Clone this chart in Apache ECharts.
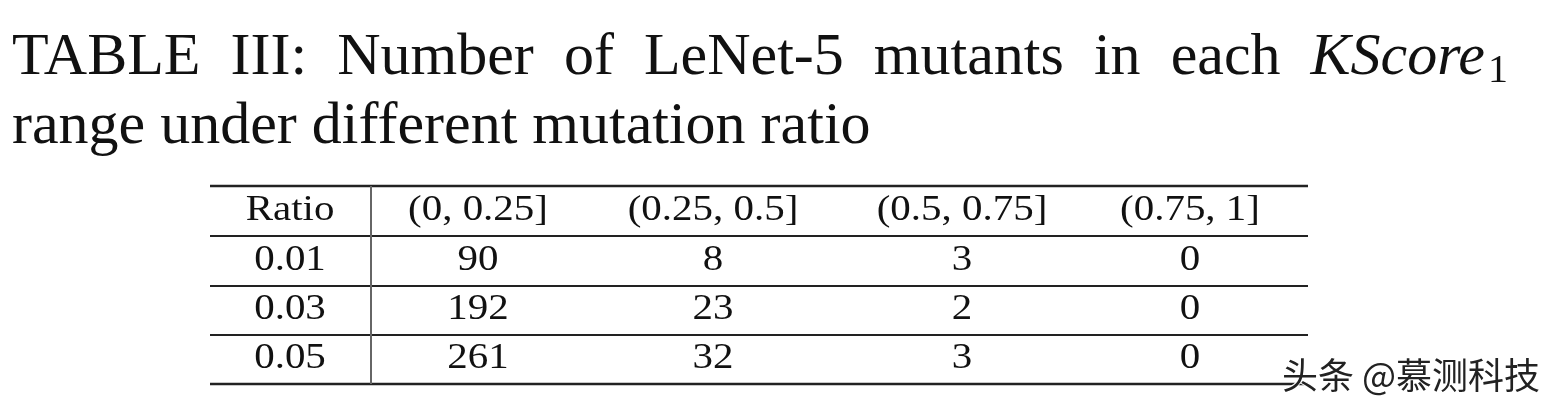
<!DOCTYPE html>
<html><head><meta charset="utf-8">
<script src="https://cdn.jsdelivr.net/npm/echarts@6/dist/echarts.min.js"></script>
<style>html,body{margin:0;background:#fff}#c{width:1552px;height:408px}</style>
</head><body><div id="c"></div>
<script>
// table data
const headers = ['Ratio', '(0, 0.25]', '(0.25, 0.5]', '(0.5, 0.75]', '(0.75, 1]'];
const ratios = ['0.01', '0.03', '0.05'];
const range1 = [90, 192, 261];
const range2 = [8, 23, 32];
const range3 = [3, 2, 3];
const range4 = [0, 0, 0];

const titleWords = ['TABLE', 'III:', 'Number', 'of', 'LeNet-5', 'mutants', 'in', 'each'];
const colX = [290, 478, 713, 962, 1190];
const rowY = [211, 261, 310, 359];
const ruleY = [186, 236, 286, 335, 384];

const serif = '"Liberation Serif", "DejaVu Serif", serif';
const chart = echarts.init(document.getElementById('c'));
const g = [];

// justify first title line between x=12 and x=1508
const ctx = document.createElement('canvas').getContext('2d');
function textW(t, f) { ctx.font = f; return ctx.measureText(t).width; }
const wf = '60px ' + serif, itf = 'italic 60px ' + serif, subf = '40px ' + serif;
const widths = titleWords.map(w => textW(w, wf));
const lastW = textW('KScore', itf) + 3 + textW('1', subf);
const total = widths.reduce((a, b) => a + b, 0) + lastW;
const gap = (1508 - 12 - total) / titleWords.length;
let x = 12;
titleWords.forEach((w, i) => {
    g.push({ type: 'text', x: x, y: 58,
        style: { text: w, font: wf, fill: '#111', verticalAlign: 'middle' } });
    x += widths[i] + gap;
});
g.push({ type: 'text', x: x, y: 58,
    style: { text: 'KScore', font: itf, fill: '#111', verticalAlign: 'middle' } });
g.push({ type: 'text', x: x + textW('KScore', itf) + 3, y: 71,
    style: { text: '1', font: subf, fill: '#111', verticalAlign: 'middle' } });
g.push({ type: 'text', x: 12, y: 127,
    style: { text: 'range under different mutation ratio', font: wf, fill: '#111', verticalAlign: 'middle' } });

const rows = [headers].concat(ratios.map((r, i) => [r, range1[i], range2[i], range3[i], range4[i]]));
rows.forEach((row, ri) => row.forEach((v, ci) => g.push({
    type: 'text', x: colX[ci], y: rowY[ri], scaleX: 1.17,
    style: { text: String(v), font: '35px ' + serif, fill: '#111', align: 'center', verticalAlign: 'middle' }
})));

ruleY.forEach((y, i) => g.push({
    type: 'line', shape: { x1: 210, y1: y, x2: 1308, y2: y },
    style: { stroke: '#222', lineWidth: (i === 0 || i === ruleY.length - 1) ? 2.4 : 2 }
}));
g.push({ type: 'line', shape: { x1: 371, y1: 186, x2: 371, y2: 384 },
    style: { stroke: '#666', lineWidth: 2 } });

g.push({ type: 'text', x: 1540, y: 375,
    style: { text: '头条 @慕测科技', font: '36px "Noto Sans CJK SC", sans-serif', fill: '#222',
             align: 'right', verticalAlign: 'middle', stroke: '#fff', lineWidth: 2 } });

chart.setOption({ animation: false, graphic: g });
</script></body></html>
